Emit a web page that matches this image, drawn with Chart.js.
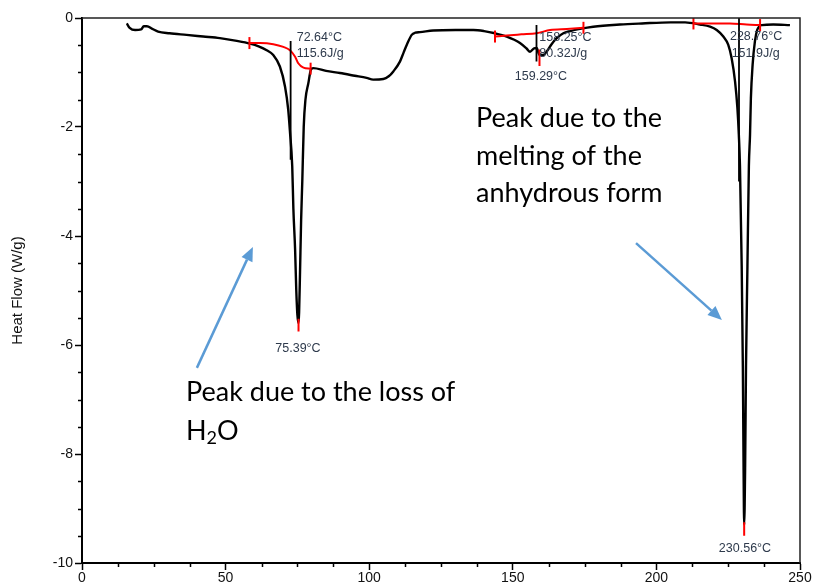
<!DOCTYPE html>
<html lang="en">
<head>
<meta charset="UTF-8">
<title>DSC Heat Flow</title>
<script src="https://cdn.jsdelivr.net/npm/chart.js"></script>
<style>
    html, body {
        margin: 0;
        padding: 0;
        background: #fff;
    }
    #dsc {
        display: block;
    }
</style>
</head>
<body>
<canvas id="dsc" width="814" height="585"></canvas>
<script>
// thermogram: temperature (°C) vs heat flow (W/g)
const temperature = [15.6, 16.6, 18.5, 20.6, 21.5, 22.6, 24.5, 26.5, 30.5, 36.4, 42.2, 48.0, 53.9, 58.5, 61.5,
    64.3, 66.6, 68.9, 70.7, 71.8, 72.4, 73.2, 73.6, 74.2, 74.6, 75.0, 75.39, 75.6, 75.9, 76.3, 76.7, 77.2, 77.8,
    78.8, 79.7, 80.5, 85.0, 89.8, 95.0, 99.1, 101.4, 104.9, 106.8, 108.4, 110.7, 112.0, 113.1, 114.8, 116.0,
    117.7, 122.3, 130.0, 136.3, 140.0, 143.8, 147.9, 150.5, 152.5, 154.8, 156.0, 157.3, 158.3, 159.3, 160.6,
    162.0, 163.5, 165.3, 167.6, 170.0, 173.4, 178.0, 187.3, 195.0, 205.0, 210.0, 215.2, 218.7, 221.0, 223.3,
    225.0, 226.2, 227.4, 228.2, 228.7, 229.1, 229.7, 230.1, 230.35, 230.56, 230.9, 231.2, 231.7, 232.2, 232.6,
    232.9, 233.5, 234.3, 235.1, 236.7, 240.7, 246.5];
const heatFlow = [-0.10, -0.18, -0.22, -0.21, -0.15, -0.15, -0.20, -0.25, -0.28, -0.31, -0.34, -0.37, -0.42, -0.47, -0.52,
    -0.59, -0.68, -0.89, -1.26, -1.68, -2.08, -2.72, -3.50, -4.25, -4.98, -5.45, -5.60, -5.40, -4.70, -3.70, -3.00, -2.00, -1.50,
    -1.20, -0.95, -0.92, -0.97, -1.01, -1.06, -1.10, -1.13, -1.12, -1.07, -0.98, -0.80, -0.63, -0.49, -0.31, -0.27,
    -0.26, -0.23, -0.22, -0.22, -0.24, -0.28, -0.34, -0.40, -0.46, -0.56, -0.62, -0.56, -0.55, -0.68, -0.68,
    -0.60, -0.48, -0.37, -0.28, -0.24, -0.20, -0.16, -0.12, -0.10, -0.08, -0.08, -0.12, -0.16, -0.22, -0.34,
    -0.49, -0.74, -1.17, -1.65, -2.14, -2.72, -4.55, -6.39, -8.22, -9.30, -8.22, -6.39, -4.55, -2.72, -2.14,
    -1.47, -0.86, -0.43, -0.22, -0.13, -0.12, -0.13];

// red integration baselines (one per peak)
const base1T = [58.3, 62.0, 66.6, 70.1, 72.4, 74.2, 75.3, 77.1, 79.6];
const base1H = [-0.46, -0.46, -0.48, -0.53, -0.59, -0.71, -0.83, -0.91, -0.93];
const base2T = [143.8, 147.9, 153.0, 158.3, 163.0, 168.8, 174.6];
const base2H = [-0.34, -0.32, -0.30, -0.28, -0.22, -0.20, -0.18];
const base3T = [212.9, 219.0, 225.6, 231.4, 236.1];
const base3H = [-0.10, -0.10, -0.10, -0.12, -0.13];

// onset markers (black) and peak markers (red)
const onsetT = [72.64, 158.25, 228.76];
const onsetTop = [-0.42, -0.13, 0.0];
const onsetBottom = [-2.6, -0.80, -3.0];
const peakT = [75.39, 159.29, 230.56];
const peakTop = [-5.52, -0.58, -9.25];
const peakBottom = [-5.75, -0.88, -9.50];

// small analysis labels: text, temperature, heat flow, alignment
const labelText = ['72.64°C', '115.6J/g', '158.25°C', '80.32J/g', '159.29°C', '228.76°C', '151.9J/g', '75.39°C', '230.56°C'];
const labelT = [74.75, 74.75, 159.24, 159.24, 159.8, 225.6, 226.2, 75.2, 230.85];
const labelH = [-0.36, -0.65, -0.36, -0.65, -1.07, -0.34, -0.65, -6.06, -9.73];
const labelAlign = ['left', 'left', 'left', 'left', 'center', 'left', 'left', 'center', 'center'];

// x and y tick values
const xTicks = [0, 50, 100, 150, 200, 250];
const yTicks = [0, -2, -4, -6, -8, -10];

const pts = (xs, ys) => xs.map((x, i) => ({ x: x, y: ys[i] }));

const endTicks = ctx => (ctx.dataIndex === 0 || ctx.dataIndex === ctx.dataset.data.length - 1) ? 6 : 0;

const datasets = [];
datasets.push({
    data: pts(temperature, heatFlow),
    borderColor: '#000',
    borderWidth: 2.4,
    pointRadius: 0,
    cubicInterpolationMode: 'monotone',
    order: 3
});
[[base1T, base1H], [base2T, base2H], [base3T, base3H]].forEach(b => {
    datasets.push({
        data: pts(b[0], b[1]),
        borderColor: '#ff0000',
        borderWidth: 2,
        cubicInterpolationMode: 'monotone',
        pointStyle: 'line',
        pointRotation: 90,
        pointRadius: endTicks,
        pointBorderColor: '#ff0000',
        pointBorderWidth: 2,
        order: 2
    });
});
onsetT.forEach((t, i) => {
    datasets.push({
        data: [{ x: t, y: onsetTop[i] }, { x: t, y: onsetBottom[i] }],
        borderColor: '#000',
        borderWidth: 1.8,
        pointRadius: 0,
        order: 1
    });
});
peakT.forEach((t, i) => {
    datasets.push({
        data: [{ x: t, y: peakTop[i] }, { x: t, y: peakBottom[i] }],
        borderColor: '#ff0000',
        borderWidth: 2,
        pointRadius: 0,
        order: 1
    });
});

// minor ticks, frame, arrows and text notes
const extras = {
    id: 'extras',
    afterDraw(chart) {
        const c = chart.ctx;
        const xs = chart.scales.x, ys = chart.scales.y;
        const a = chart.chartArea;
        c.save();

        // frame on top and right
        c.strokeStyle = '#222';
        c.lineWidth = 1.5;
        c.beginPath();
        c.moveTo(a.left, a.top);
        c.lineTo(a.right, a.top);
        c.lineTo(a.right, a.bottom);
        c.stroke();

        // minor ticks
        c.strokeStyle = '#000';
        c.lineWidth = 1.5;
        c.beginPath();
        for (let v = -10; v <= 0; v += 0.5) {
            if (v % 2 === 0) continue;
            const py = Math.round(ys.getPixelForValue(v)) + 0.5;
            c.moveTo(a.left, py);
            c.lineTo(a.left - 4, py);
        }
        for (let v = 0; v <= 250; v += 12.5) {
            if (v % 50 === 0) continue;
            const px = Math.round(xs.getPixelForValue(v)) + 0.5;
            c.moveTo(px, a.bottom);
            c.lineTo(px, a.bottom + 4);
        }
        c.stroke();

        // analysis labels
        c.fillStyle = '#2e3a4c';
        c.font = '12.5px "Liberation Sans", Arial, sans-serif';
        c.textBaseline = 'middle';
        labelText.forEach((t, i) => {
            c.textAlign = labelAlign[i];
            c.fillText(t, xs.getPixelForValue(labelT[i]), ys.getPixelForValue(labelH[i]));
        });

        // arrows
        const arrow = (t0, h0, t1, h1) => {
            const x0 = xs.getPixelForValue(t0), y0 = ys.getPixelForValue(h0);
            const x1 = xs.getPixelForValue(t1), y1 = ys.getPixelForValue(h1);
            const ang = Math.atan2(y1 - y0, x1 - x0);
            const len = 14, half = 6;
            const bx = x1 - Math.cos(ang) * len, by = y1 - Math.sin(ang) * len;
            c.strokeStyle = '#5b9bd5';
            c.fillStyle = '#5b9bd5';
            c.lineWidth = 2.5;
            c.beginPath();
            c.moveTo(x0, y0);
            c.lineTo(bx, by);
            c.stroke();
            c.beginPath();
            c.moveTo(x1, y1);
            c.lineTo(bx + Math.sin(ang) * half, by - Math.cos(ang) * half);
            c.lineTo(bx - Math.sin(ang) * half, by + Math.cos(ang) * half);
            c.closePath();
            c.fill();
        };
        arrow(40.0, -6.42, 59.5, -4.2);
        arrow(192.9, -4.13, 222.8, -5.54);

        // notes
        c.fillStyle = '#000';
        c.textAlign = 'left';
        c.textBaseline = 'alphabetic';
        const big = '27px Lato, "Open Sans", sans-serif';
        c.font = big;
        const note = (t, tx, hy) => c.fillText(t, xs.getPixelForValue(tx), ys.getPixelForValue(hy));
        note('Peak due to the loss of', 36.2, -7.02);
        note('Peak due to the', 137.2, -2.0);
        note('melting of the', 137.2, -2.69);
        note('anhydrous form', 137.2, -3.37);
        // H2O with a lowered small 2
        let hx = xs.getPixelForValue(36.2);
        const hy = ys.getPixelForValue(-7.75);
        c.fillText('H', hx, hy);
        hx += c.measureText('H').width;
        c.font = '18px Lato, "Open Sans", sans-serif';
        c.fillText('2', hx, hy + 4);
        hx += c.measureText('2').width;
        c.font = big;
        c.fillText('O', hx, hy);

        c.restore();
    }
};

const tickFont = { family: '"Liberation Sans", Arial, sans-serif', size: 14 };

new Chart(document.getElementById('dsc'), {
    type: 'line',
    data: { datasets: datasets },
    options: {
        responsive: false,
        animation: false,
        parsing: false,
        layout: { padding: { left: 0, top: 18, right: 14, bottom: 0 } },
        plugins: {
            legend: { display: false },
            tooltip: { enabled: false }
        },
        scales: {
            x: {
                type: 'linear',
                min: 0,
                max: 250,
                afterFit: s => { s.height = 22; },
                afterBuildTicks: s => { s.ticks = xTicks.map(v => ({ value: v })); },
                ticks: { color: '#111', font: tickFont, padding: 0, maxRotation: 0, autoSkip: false },
                grid: { drawOnChartArea: false, tickLength: 7, tickColor: '#000', tickWidth: 1.5 },
                border: { display: true, color: '#000', width: 2 }
            },
            y: {
                type: 'linear',
                min: -10,
                max: 0,
                afterFit: s => { s.width = 82; },
                afterBuildTicks: s => { s.ticks = yTicks.map(v => ({ value: v })); },
                ticks: { color: '#111', font: tickFont, padding: 2, autoSkip: false },
                grid: { drawOnChartArea: false, tickLength: 7, tickColor: '#000', tickWidth: 1.5 },
                border: { display: true, color: '#000', width: 2 },
                title: {
                    display: true,
                    text: 'Heat Flow (W/g)',
                    color: '#111',
                    font: { family: '"Liberation Sans", Arial, sans-serif', size: 15 },
                    padding: { top: 9, bottom: 0 }
                }
            }
        }
    },
    plugins: [extras]
});
</script>
</body>
</html>
